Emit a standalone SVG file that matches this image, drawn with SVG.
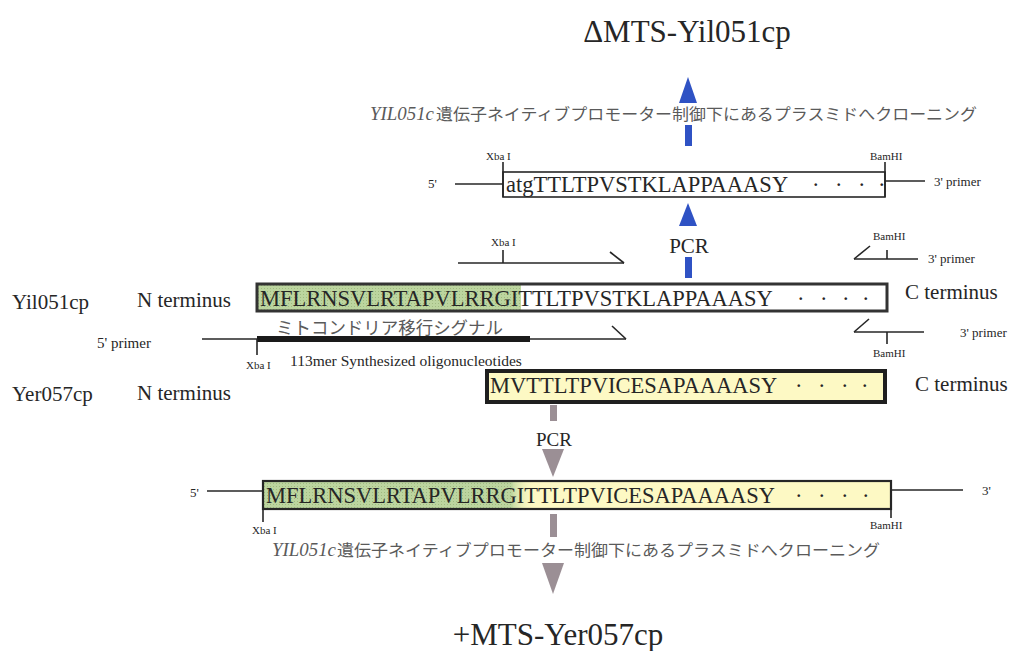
<svg xmlns="http://www.w3.org/2000/svg" width="1028" height="651" viewBox="0 0 1028 651">
<defs>
<style>
.t{font-family:'Liberation Serif','Times New Roman',serif;fill:#262626}
.s{font-size:11px}
.lbl{font-size:21px}
.seq{font-size:22.5px}
.jp{font-family:'Noto Sans CJK JP',sans-serif;fill:#5a5a5a}
.it{font-family:'Liberation Serif',serif;font-style:italic;fill:#5a5a5a}
.ln{stroke:#262626;stroke-width:1.6;fill:none}
.blue{fill:#2f52c4}
.gray{fill:#9b8f95}
</style>
<pattern id="grn" width="3" height="3" patternUnits="userSpaceOnUse">
<rect width="3" height="3" fill="#bcd59f"/>
<rect width="1" height="1" fill="#9fba80"/>
</pattern>
<linearGradient id="fade" gradientUnits="userSpaceOnUse" x1="510" y1="0" x2="536" y2="0">
<stop offset="0" stop-color="#bcd59f"/>
<stop offset="1" stop-color="#fdf9c4" stop-opacity="0"/>
</linearGradient>
</defs>
<rect width="1028" height="651" fill="#ffffff"/>

<g id="title-top"><text class="t" font-family="Liberation Serif, serif" x="687" y="42" font-size="31" text-anchor="middle">ΔMTS-Yil051cp</text></g>

<g id="connectors">
<polygon class="blue" points="688,77 697,103 679,103"/>
<rect class="blue" x="685" y="125" width="7" height="21"/>
<polygon class="blue" points="688,203 697,226 679,226"/>
<rect class="blue" x="685" y="257" width="7" height="21"/>
<rect class="gray" x="550" y="405" width="7" height="16"/>
<polygon class="gray" points="553,477 564,449 542,449"/>
<rect class="gray" x="550" y="514" width="7" height="23"/>
<polygon class="gray" points="553,594 564,563 542,563"/>
</g>
<g id="pcr-labels">
<text class="t" font-family="Liberation Serif, serif" x="689" y="253" font-size="21" text-anchor="middle">PCR</text>
<text class="t" font-family="Liberation Serif, serif" x="554" y="446" font-size="19" text-anchor="middle">PCR</text>
</g>

<g id="clone-top">
<text class="it" x="370" y="120" font-size="18" textLength="64" lengthAdjust="spacingAndGlyphs">YIL051c</text>
<text class="jp" x="436" y="120" font-size="16" textLength="541" lengthAdjust="spacingAndGlyphs">遺伝子ネイティブプロモーター制御下にあるプラスミドへクローニング</text>
</g>

<g id="product-top">
<text class="t" x="428" y="188" font-size="13">5'</text>
<line class="ln" x1="455" y1="184" x2="503" y2="184"/>
<rect x="503" y="172" width="382" height="25" fill="#fff" stroke="#262626" stroke-width="1.6"/>
<line class="ln" x1="503" y1="162" x2="503" y2="197"/>
<text class="t s" x="486" y="160">Xba I</text>
<line class="ln" x1="885" y1="162" x2="885" y2="197"/>
<text class="t s" x="870" y="160">BamHI</text>
<line class="ln" x1="885" y1="181" x2="925" y2="181"/>
<text class="t" x="934" y="186" font-size="13">3' primer</text>
<text class="t seq" font-family="Liberation Serif, serif" x="506" y="192">atgTTLTPVSTKLAPPAAASY</text>
<text class="t seq" font-family="Liberation Serif, serif" x="812 835 858 878" y="192">····</text>
</g>

<g id="primers-yil">
<line class="ln" x1="458" y1="263" x2="624" y2="263"/>
<line class="ln" x1="610" y1="252" x2="624" y2="263"/>
<line class="ln" x1="503" y1="250" x2="503" y2="263"/>
<text class="t s" x="491" y="246">Xba I</text>
<line class="ln" x1="854" y1="259" x2="918" y2="259"/>
<line class="ln" x1="854" y1="259" x2="870" y2="246"/>
<line class="ln" x1="887" y1="250" x2="887" y2="259"/>
<text class="t s" x="873" y="240">BamHI</text>
<text class="t" x="928" y="263" font-size="13">3' primer</text>
<line class="ln" x1="202" y1="339" x2="626" y2="339"/>
<line class="ln" x1="612" y1="326" x2="626" y2="339"/>
<rect x="257" y="336" width="273" height="6" fill="#1a1a1a"/>
<line class="ln" x1="257" y1="339" x2="257" y2="355"/>
<text class="t s" x="246" y="369">Xba I</text>
<text class="t" x="97" y="348" font-size="15">5' primer</text>
<text class="t" x="290" y="366" font-size="15.5">113mer Synthesized oligonucleotides</text>
<line class="ln" x1="854" y1="332" x2="924" y2="332"/>
<line class="ln" x1="854" y1="332" x2="869" y2="319"/>
<line class="ln" x1="887" y1="332" x2="887" y2="344"/>
<text class="t s" x="873" y="357">BamHI</text>
<text class="t" x="960" y="337" font-size="13">3' primer</text>
</g>

<g id="yil051cp">
<text class="t lbl" font-family="Liberation Serif, serif" x="12" y="309">Yil051cp</text>
<text class="t lbl" font-family="Liberation Serif, serif" x="137" y="307">N terminus</text>
<rect x="257" y="284" width="630" height="27" fill="#fff"/>
<rect x="257" y="284" width="264" height="27" fill="url(#grn)"/>
<rect x="257" y="284" width="630" height="27" fill="none" stroke="#333" stroke-width="3"/>
<text class="t seq" font-family="Liberation Serif, serif" x="260" y="306">MFLRNSVLRTAPVLRRGITTLTPVSTKLAPPAAASY</text>
<text class="t seq" font-family="Liberation Serif, serif" x="797 820 842 862" y="306">····</text>
<text class="t lbl" font-family="Liberation Serif, serif" x="905" y="299">C terminus</text>
<text class="jp" x="276" y="334" font-size="17.5" textLength="227" lengthAdjust="spacingAndGlyphs">ミトコンドリア移行シグナル</text>
</g>

<g id="yer057cp">
<text class="t lbl" font-family="Liberation Serif, serif" x="12" y="401">Yer057cp</text>
<text class="t lbl" font-family="Liberation Serif, serif" x="137" y="400">N terminus</text>
<rect x="487" y="371" width="398" height="31" fill="#fdf9c4" stroke="#1f1f1f" stroke-width="4"/>
<text class="t seq" font-family="Liberation Serif, serif" x="490" y="393">MVTTLTPVICESAPAAAASY</text>
<text class="t seq" font-family="Liberation Serif, serif" x="795 818 841 861" y="393">····</text>
<text class="t lbl" font-family="Liberation Serif, serif" x="915" y="391">C terminus</text>
</g>

<g id="fusion">
<text class="t" x="190" y="497" font-size="13">5'</text>
<line class="ln" x1="207" y1="491" x2="263" y2="491"/>
<rect x="263" y="481" width="628" height="28" fill="#fdf9c4"/>
<rect x="263" y="481" width="250" height="28" fill="url(#grn)"/>
<rect x="512" y="481" width="25" height="28" fill="url(#fade)"/>
<rect x="263" y="481" width="628" height="28" fill="none" stroke="#262626" stroke-width="2.2"/>
<text class="t seq" font-family="Liberation Serif, serif" x="266" y="503">MFLRNSVLRTAPVLRRGITTLTPVICESAPAAAASY</text>
<text class="t seq" font-family="Liberation Serif, serif" x="795 818 841 862" y="503">····</text>
<line class="ln" x1="263" y1="509" x2="263" y2="522"/>
<text class="t s" x="252" y="534">Xba I</text>
<line class="ln" x1="891" y1="490" x2="891" y2="518"/>
<text class="t s" x="870" y="529">BamHI</text>
<line class="ln" x1="891" y1="490" x2="963" y2="490"/>
<text class="t" x="982" y="495" font-size="13">3'</text>
</g>

<g id="clone-bottom">
<text class="it" x="272" y="556" font-size="18" textLength="64" lengthAdjust="spacingAndGlyphs">YIL051c</text>
<text class="jp" x="337" y="556" font-size="16" textLength="543" lengthAdjust="spacingAndGlyphs">遺伝子ネイティブプロモーター制御下にあるプラスミドへクローニング</text>
</g>

<g id="title-bottom"><text class="t" font-family="Liberation Serif, serif" x="558" y="645" font-size="31" text-anchor="middle">+MTS-Yer057cp</text></g>
</svg>
